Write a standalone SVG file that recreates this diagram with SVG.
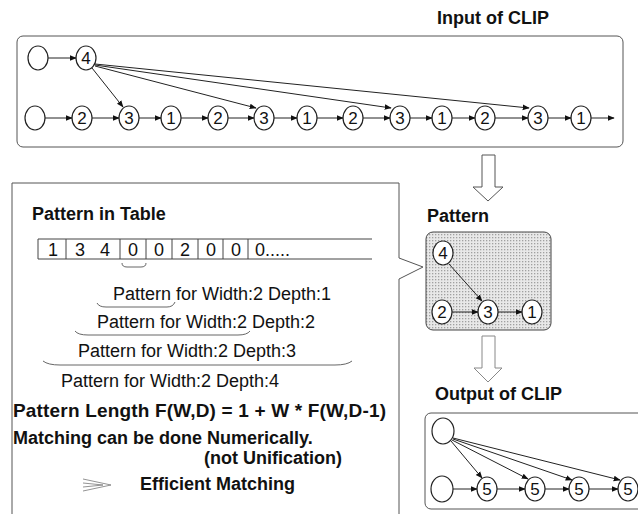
<svg xmlns="http://www.w3.org/2000/svg" width="638" height="514" viewBox="0 0 638 514">
<defs>
<marker id="ah" viewBox="0 0 10 10" refX="9" refY="5" markerWidth="7" markerHeight="7" orient="auto" markerUnits="userSpaceOnUse">
<path d="M0,1 L10,5 L0,9 Z" fill="#111"/>
</marker>
<pattern id="dots" width="3" height="3" patternUnits="userSpaceOnUse">
<rect width="3" height="3" fill="#e8e8e8"/>
<rect x="0" y="0" width="1.3" height="1.3" fill="#a0a0a0"/>
</pattern>
</defs>
<style>
.t{font-family:"Liberation Sans",Arial,sans-serif;fill:#111}
.b{font-weight:bold;font-size:18px}
.r{font-size:18px}
.n{font-size:17px;text-anchor:middle}
.nd{fill:#fff;stroke:#222;stroke-width:1.2}
.c{stroke:#222;stroke-width:1;fill:none}
.frame{fill:none;stroke:#555;stroke-width:1}
.br{fill:none;stroke:#666;stroke-width:1}
</style>
<rect width="638" height="514" fill="#fff"/>

<!-- Input of CLIP -->
<g id="input">
<text class="t b" x="437" y="24">Input of CLIP</text>
<rect class="frame" x="17" y="36" width="606" height="111" rx="6"/>
</g>
<g id="in-nodes">
<ellipse class="nd" cx="38" cy="58" rx="10" ry="12"/>
<ellipse class="nd" cx="86" cy="58" rx="10" ry="12"/><text class="t n" x="86" y="64">4</text>
<ellipse class="nd" cx="35" cy="118" rx="10" ry="12"/>
<ellipse class="nd" cx="82" cy="118" rx="10" ry="12"/><text class="t n" x="82" y="124">2</text>
<ellipse class="nd" cx="129" cy="118" rx="10" ry="12"/><text class="t n" x="129" y="124">3</text>
<ellipse class="nd" cx="171" cy="118" rx="10" ry="12"/><text class="t n" x="171" y="124">1</text>
<ellipse class="nd" cx="218" cy="118" rx="10" ry="12"/><text class="t n" x="218" y="124">2</text>
<ellipse class="nd" cx="264" cy="118" rx="10" ry="12"/><text class="t n" x="264" y="124">3</text>
<ellipse class="nd" cx="307" cy="118" rx="10" ry="12"/><text class="t n" x="307" y="124">1</text>
<ellipse class="nd" cx="353" cy="118" rx="10" ry="12"/><text class="t n" x="353" y="124">2</text>
<ellipse class="nd" cx="400" cy="118" rx="10" ry="12"/><text class="t n" x="400" y="124">3</text>
<ellipse class="nd" cx="442" cy="118" rx="10" ry="12"/><text class="t n" x="442" y="124">1</text>
<ellipse class="nd" cx="485" cy="118" rx="10" ry="12"/><text class="t n" x="485" y="124">2</text>
<ellipse class="nd" cx="538" cy="118" rx="10" ry="12"/><text class="t n" x="538" y="124">3</text>
<ellipse class="nd" cx="581" cy="118" rx="10" ry="12"/><text class="t n" x="581" y="124">1</text>
</g>
<g id="in-connectors">
<line class="c" x1="48" y1="58" x2="76" y2="58" marker-end="url(#ah)"/>
<line class="c" x1="92" y1="68" x2="123" y2="107" marker-end="url(#ah)"/>
<line class="c" x1="95" y1="66" x2="256" y2="108" marker-end="url(#ah)"/>
<line class="c" x1="95" y1="65" x2="391" y2="108" marker-end="url(#ah)"/>
<line class="c" x1="95" y1="64" x2="529" y2="108" marker-end="url(#ah)"/>
<line class="c" x1="45" y1="118" x2="72" y2="118" marker-end="url(#ah)"/>
<line class="c" x1="92" y1="118" x2="119" y2="118" marker-end="url(#ah)"/>
<line class="c" x1="139" y1="118" x2="161" y2="118" marker-end="url(#ah)"/>
<line class="c" x1="181" y1="118" x2="208" y2="118" marker-end="url(#ah)"/>
<line class="c" x1="228" y1="118" x2="254" y2="118" marker-end="url(#ah)"/>
<line class="c" x1="274" y1="118" x2="297" y2="118" marker-end="url(#ah)"/>
<line class="c" x1="317" y1="118" x2="343" y2="118" marker-end="url(#ah)"/>
<line class="c" x1="363" y1="118" x2="390" y2="118" marker-end="url(#ah)"/>
<line class="c" x1="410" y1="118" x2="432" y2="118" marker-end="url(#ah)"/>
<line class="c" x1="452" y1="118" x2="475" y2="118" marker-end="url(#ah)"/>
<line class="c" x1="495" y1="118" x2="528" y2="118" marker-end="url(#ah)"/>
<line class="c" x1="548" y1="118" x2="571" y2="118" marker-end="url(#ah)"/>
<line class="c" x1="591" y1="118" x2="614" y2="118" marker-end="url(#ah)"/>
</g>

<!-- hollow arrows -->
<g id="arrow1"><polygon points="482,155 495,155 495,187 503,187 488,201 473,187 482,187" fill="#fff" stroke="#555" stroke-width="1"/></g>
<g id="arrow2"><polygon points="482,336 495,336 495,368 502,368 488,382 474,368 482,368" fill="#fff" stroke="#888" stroke-width="1"/></g>

<!-- Left panel -->
<g id="table-panel">
<path d="M12,514 L12,183 L399,183 L399,258 L423,267 L399,279 L399,514" fill="none" stroke="#555" stroke-width="1"/>
<text class="t b" x="32" y="220">Pattern in Table</text>
<g id="table">
<path d="M38,239 H372 M38,259 H372 M38,239 V259 M66,239 V259 M120,239 V259 M146,239 V259 M172,239 V259 M198,239 V259 M223,239 V259 M248,239 V259" fill="none" stroke="#444" stroke-width="1"/>
<text class="t r" x="53" y="256" text-anchor="middle">1</text>
<text class="t r" x="80" y="256" text-anchor="middle">3</text>
<text class="t r" x="105" y="256" text-anchor="middle">4</text>
<text class="t r" x="133" y="256" text-anchor="middle">0</text>
<text class="t r" x="159" y="256" text-anchor="middle">0</text>
<text class="t r" x="185" y="256" text-anchor="middle">2</text>
<text class="t r" x="211" y="256" text-anchor="middle">0</text>
<text class="t r" x="236" y="256" text-anchor="middle">0</text>
<text class="t r" x="255" y="256">0.....</text>
</g>
<path class="br" d="M122,263 Q122,267 127,267 H141 Q146,267 146,263"/>
<text class="t r" x="113" y="300">Pattern for Width:2 Depth:1</text>
<path class="br" d="M97,303 Q99,307 106,307 H167 Q173,307 175,302"/>
<text class="t r" x="97" y="328">Pattern for Width:2 Depth:2</text>
<path class="br" d="M75,331 Q78,335 88,335 H238 Q247,335 250,331"/>
<text class="t r" x="78" y="357">Pattern for Width:2 Depth:3</text>
<path class="br" d="M43,361 Q48,365 60,365 H335 Q347,365 352,361"/>
<text class="t r" x="61" y="387">Pattern for Width:2 Depth:4</text>
<text class="t b" x="13" y="417" style="font-size:19px" textLength="373">Pattern Length F(W,D) = 1 + W * F(W,D-1)</text>
<text class="t b" x="13" y="444">Matching can be done Numerically.</text>
<text class="t b" x="204" y="464">(not Unification)</text>
<path d="M83,479 L111,485 L83,491 M83,483 L103,485 L83,487" fill="none" stroke="#777" stroke-width="0.8"/>
<text class="t b" x="140" y="490">Efficient Matching</text>
</g>

<!-- Pattern -->
<g id="pattern">
<text class="t b" x="427" y="222">Pattern</text>
<rect x="426" y="232" width="125" height="98" rx="7" fill="url(#dots)" stroke="#444" stroke-width="1"/>
<ellipse class="nd" cx="443" cy="253" rx="10" ry="12"/><text class="t n" x="443" y="259">4</text>
<ellipse class="nd" cx="442" cy="312" rx="10" ry="12"/><text class="t n" x="442" y="318">2</text>
<ellipse class="nd" cx="488" cy="312" rx="10" ry="12"/><text class="t n" x="488" y="318">3</text>
<ellipse class="nd" cx="532" cy="312" rx="10" ry="12"/><text class="t n" x="532" y="318">1</text>
</g>
<g id="pattern-connectors">
<line class="c" x1="449" y1="264" x2="482" y2="301" marker-end="url(#ah)"/>
<line class="c" x1="452" y1="312" x2="478" y2="312" marker-end="url(#ah)"/>
<line class="c" x1="498" y1="312" x2="522" y2="312" marker-end="url(#ah)"/>
</g>

<!-- Output of CLIP -->
<g id="output">
<text class="t b" x="435" y="400">Output of CLIP</text>
<rect class="frame" x="425" y="413" width="230" height="96" rx="6"/>
<ellipse class="nd" cx="443" cy="431" rx="11" ry="13"/>
<ellipse class="nd" cx="442" cy="489" rx="11" ry="13"/>
<ellipse class="nd" cx="487" cy="489" rx="10" ry="12"/><text class="t n" x="487" y="495">5</text>
<ellipse class="nd" cx="535" cy="489" rx="10" ry="12"/><text class="t n" x="535" y="495">5</text>
<ellipse class="nd" cx="579" cy="489" rx="10" ry="12"/><text class="t n" x="579" y="495">5</text>
<ellipse class="nd" cx="628" cy="489" rx="10" ry="12"/><text class="t n" x="628" y="495">5</text>
</g>
<g id="output-connectors">
<line class="c" x1="451" y1="441" x2="482" y2="478" marker-end="url(#ah)"/>
<line class="c" x1="452" y1="440" x2="528" y2="479" marker-end="url(#ah)"/>
<line class="c" x1="453" y1="439" x2="572" y2="480" marker-end="url(#ah)"/>
<line class="c" x1="453" y1="438" x2="620" y2="480" marker-end="url(#ah)"/>
<line class="c" x1="453" y1="489" x2="477" y2="489" marker-end="url(#ah)"/>
<line class="c" x1="497" y1="489" x2="525" y2="489" marker-end="url(#ah)"/>
<line class="c" x1="545" y1="489" x2="569" y2="489" marker-end="url(#ah)"/>
<line class="c" x1="589" y1="489" x2="618" y2="489" marker-end="url(#ah)"/>
</g>
</svg>
